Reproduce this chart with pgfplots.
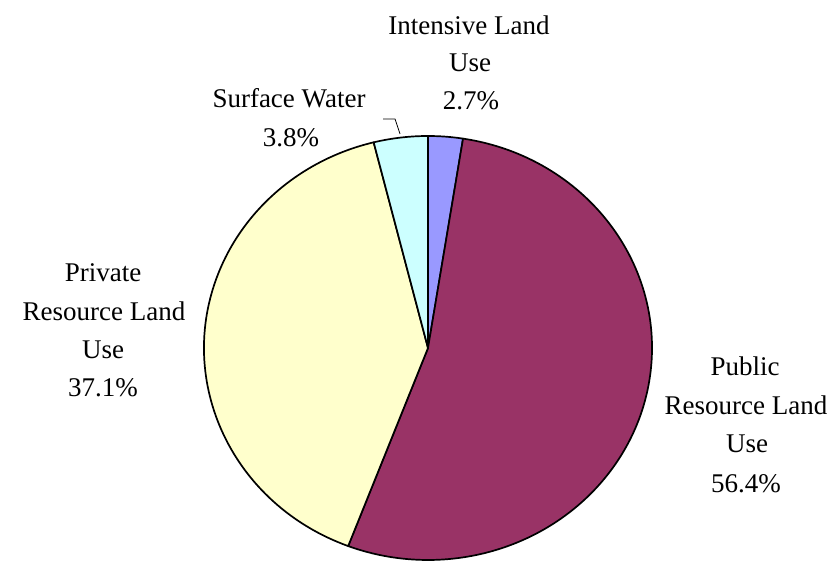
\documentclass[border=0pt]{standalone}
\usepackage{fontspec}
\setmainfont{Liberation Serif}
\usepackage{pgfplots}
\pgfplotsset{compat=1.18}
\definecolor{cInt}{HTML}{9999FF}
\definecolor{cPub}{HTML}{993366}
\definecolor{cPri}{HTML}{FFFFCC}
\definecolor{cWat}{HTML}{CCFFFF}
\tikzset{lbl/.style={font=\fontsize{27}{33}\selectfont, inner sep=0pt, anchor=base}}
\begin{document}
\begin{tikzpicture}
% slice shares (percent) as drawn: Intensive, Public, Private, Surface Water
\def\vInt{2.5}
\def\vPub{53.3}
\def\vPri{40.3}
\def\vWat{3.9}
\pgfmathsetmacro\aA{90}
\pgfmathsetmacro\aB{\aA-3.6*\vInt}
\pgfmathsetmacro\aC{\aB-3.6*\vPub}
\pgfmathsetmacro\aD{\aC-3.6*\vPri}
\pgfmathsetmacro\aE{\aD-3.6*\vWat}
\def\cx{428}\def\cy{215}\def\rx{224}\def\ry{212}
\begin{axis}[scale only axis, width=835pt, height=563pt,
  xmin=0, xmax=835, ymin=0, ymax=563, hide axis, clip=false]
\path (axis cs:0,0) rectangle (axis cs:835,563);
\filldraw[fill=cInt, draw=black, line width=1.7pt, line join=round]
  (axis cs:\cx,\cy) -- (axis cs:{\cx+\rx*cos(\aA)},{\cy+\ry*sin(\aA)})
  arc[start angle=\aA, end angle=\aB, x radius=\rx, y radius=\ry] -- cycle;
\filldraw[fill=cPub, draw=black, line width=1.7pt, line join=round]
  (axis cs:\cx,\cy) -- (axis cs:{\cx+\rx*cos(\aB)},{\cy+\ry*sin(\aB)})
  arc[start angle=\aB, end angle=\aC, x radius=\rx, y radius=\ry] -- cycle;
\filldraw[fill=cPri, draw=black, line width=1.7pt, line join=round]
  (axis cs:\cx,\cy) -- (axis cs:{\cx+\rx*cos(\aC)},{\cy+\ry*sin(\aC)})
  arc[start angle=\aC, end angle=\aD, x radius=\rx, y radius=\ry] -- cycle;
\filldraw[fill=cWat, draw=black, line width=1.7pt, line join=round]
  (axis cs:\cx,\cy) -- (axis cs:{\cx+\rx*cos(\aD)},{\cy+\ry*sin(\aD)})
  arc[start angle=\aD, end angle=\aE, x radius=\rx, y radius=\ry] -- cycle;
% leader line for Surface Water
\draw[line width=0.8pt] (axis cs:383,444) -- (axis cs:395,444) -- (axis cs:400,429);
% labels
\node[lbl] at (axis cs:469,528) {Intensive Land};
\node[lbl] at (axis cs:470,491) {Use};
\node[lbl] at (axis cs:471,453) {2.7\%};
\node[lbl] at (axis cs:289,455) {Surface Water};
\node[lbl] at (axis cs:291,416) {3.8\%};
\node[lbl] at (axis cs:103,281) {Private};
\node[lbl] at (axis cs:104,242) {Resource Land};
\node[lbl] at (axis cs:103,204) {Use};
\node[lbl] at (axis cs:103,166) {37.1\%};
\node[lbl] at (axis cs:745,187) {Public};
\node[lbl] at (axis cs:746,148) {Resource Land};
\node[lbl] at (axis cs:747,110) {Use};
\node[lbl] at (axis cs:746,70) {56.4\%};
\end{axis}
\end{tikzpicture}
\end{document}
